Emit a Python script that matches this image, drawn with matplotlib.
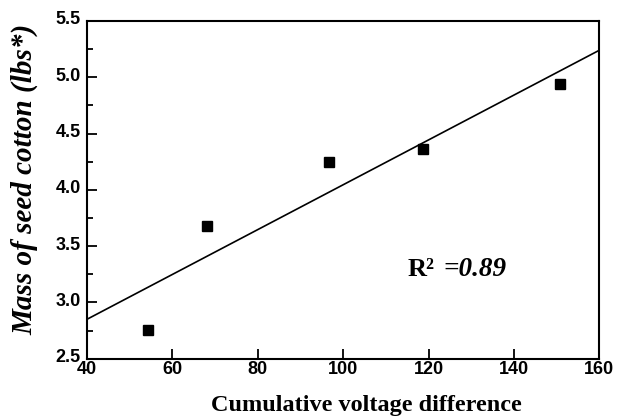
import matplotlib
matplotlib.use("Agg")
import matplotlib.pyplot as plt
from matplotlib.ticker import MultipleLocator
from matplotlib.transforms import ScaledTranslation

# Data
voltage_diff = [54.3, 68.1, 96.8, 118.6, 150.8]
seed_mass = [2.755, 3.68, 4.247, 4.36, 4.94]
fit_x = [40, 160]
fit_y = [2.85, 5.24]
x_ticks = [40, 60, 80, 100, 120, 140, 160]
y_ticks = [2.5, 3.0, 3.5, 4.0, 4.5, 5.0, 5.5]
r2_label = "0.89"

fig = plt.figure(figsize=(6.2, 4.18), dpi=100)
ax = fig.add_axes([0.1403, 0.1419, 0.8263, 0.8079])

ax.plot(fit_x, fit_y, color="black", lw=1.2, zorder=2)
ax.plot(voltage_diff, seed_mass, ls="none", marker="s", ms=7.5, color="black", zorder=3)

ax.set_xlim(40, 160)
ax.set_ylim(2.5, 5.5)
ax.set_xticks(x_ticks)
ax.set_yticks(y_ticks)
ax.set_xticklabels([str(v) for v in x_ticks])
ax.set_yticklabels([f"{v:.1f}" for v in y_ticks])
ax.yaxis.set_minor_locator(MultipleLocator(0.25))

for s in ax.spines.values():
    s.set_linewidth(1.5)
ax.tick_params(which="major", direction="in", length=7, width=1.3)
ax.tick_params(axis="x", which="major", pad=2)
ax.tick_params(axis="y", which="major", pad=4.5)
ax.tick_params(which="minor", direction="in", length=4, width=1.3)
for lab in ax.get_xticklabels() + ax.get_yticklabels():
    lab.set_fontfamily("Liberation Sans")
    lab.set_fontweight("bold")
    lab.set_fontsize(13)
# y tick labels sit slightly above their ticks in the reference
shift = ScaledTranslation(0, 3 / 100, fig.dpi_scale_trans)
for lab in ax.get_yticklabels():
    lab.set_transform(lab.get_transform() + shift)

ax.set_xlabel("Cumulative voltage difference", family="Liberation Serif",
              fontweight="bold", fontsize=17.5, va="center")
ax.xaxis.set_label_coords(0.545, -0.14)
ax.set_ylabel("Mass of seed cotton (lbs*)", family="Liberation Serif",
              fontweight="bold", style="italic", fontsize=21, va="center")
ax.yaxis.set_label_coords(-0.121, 0.53)

t1 = ax.text(115.0, 3.29, "R²", family="Liberation Serif", fontweight="bold",
             fontsize=19, va="center", ha="left")
ax.annotate("=" + r2_label, xy=(1.0, 0.5), xycoords=t1, xytext=(7, 0),
            textcoords="offset points", family="Liberation Serif",
            fontweight="bold", style="italic", fontsize=19.5, va="center", ha="left")

fig.savefig("out.png", dpi=100)
